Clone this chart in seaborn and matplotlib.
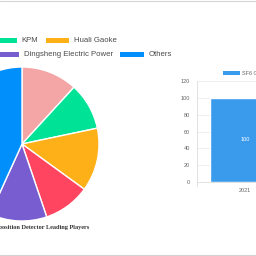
import matplotlib
matplotlib.use("Agg")
import matplotlib.pyplot as plt
import seaborn as sns
from matplotlib.patches import Rectangle
from matplotlib.lines import Line2D

# Pie data (leading players, share in %)
players = ["Henan Relations", "KPM", "Huali Gaoke", "Wuhan Huatian", "Dingsheng Electric Power", "Others"]
shares = [11.8, 9.9, 13.3, 9.8, 12.0, 43.2]
pie_colors = ["#f4a5a5", "#00e396", "#feb019", "#ff4560", "#775dd0", "#008ffb"]

# Bar data
years = ["2021"]
market_size = [100]
bar_label = "SF6 Gas Decomposition Detector Market Size"
bar_color = "#3a9bed"
y_ticks = [0, 20, 40, 60, 80, 100, 120]

title = "SF6 Gas Decomposition Detector Leading Players"

sns.set_theme(style="white")
plt.rcParams["font.family"] = ["Liberation Sans", "DejaVu Sans"]

W = 256.0
fig = plt.figure(figsize=(2.56, 2.56), dpi=100)
fig.patch.set_facecolor("white")


def fx(x):
    return x / W


def fy(y):
    return 1 - y / W


# ---- pie ----
cx, cy, r = 22, 144, 77
ax_pie = fig.add_axes([fx(cx - r), fy(cy + r), 2 * r / W, 2 * r / W])
ax_pie.pie(shares, colors=pie_colors, startangle=90, counterclock=False,
           wedgeprops=dict(edgecolor="white", linewidth=1.0))
ax_pie.set_xlim(-1, 1)
ax_pie.set_ylim(-1, 1)
ax_pie.axis("off")

# legend for the pie, two centered rows (first entries fall off the left edge)
rows = [[0, 1, 2], [3, 4, 5]]
row_y = [40.7, 54.7]
box_left = [[-140, -7, 45.5], [-140, -4.5, 120]]
for row, yy, lefts in zip(rows, row_y, box_left):
    for i, bx in zip(row, lefts):
        fig.add_artist(Rectangle((fx(bx), fy(yy + 2.6)), 23.5 / W, 5.2 / W,
                                 transform=fig.transFigure, color=pie_colors[i], lw=0))
        fig.text(fx(bx + 28.5), fy(yy), players[i], fontsize=5.6, color="#4a4a4a",
                 va="center", ha="left")

fig.text(fx(89.3), fy(227), title, fontsize=4.5, color="#333333", ha="right", va="center",
         family=["Liberation Serif", "DejaVu Serif"], fontweight="bold")

# ---- bar ----
ax_bar = fig.add_axes([fx(197), fy(182), 96 / W, 101 / W])
sns.barplot(x=years, y=market_size, color=bar_color, width=0.72, saturation=1, ax=ax_bar)
ax_bar.set_ylim(0, 120)
ax_bar.set_yticks(y_ticks)
ax_bar.yaxis.grid(True, color="#ededed", linewidth=0.6)
ax_bar.set_axisbelow(True)
for s in ["top", "right"]:
    ax_bar.spines[s].set_visible(False)
for s in ["left", "bottom"]:
    ax_bar.spines[s].set_color("#dddddd")
    ax_bar.spines[s].set_linewidth(0.6)
ax_bar.tick_params(axis="y", length=4, width=0.6, color="#e4e4e4", labelsize=4,
                   labelcolor="#666666", pad=1.2)
ax_bar.tick_params(axis="x", length=0, labelsize=4, labelcolor="#666666", pad=4)
ax_bar.add_line(Line2D([0, 0], [-0.04, 0], transform=ax_bar.transAxes, color="#dddddd",
                       lw=0.6, clip_on=False))
ax_bar.bar_label(ax_bar.containers[0], label_type="center", color="white", fontsize=4)
ax_bar.set_xlabel("")
ax_bar.set_ylabel("")

fig.add_artist(Rectangle((fx(223), fy(75.3)), 17 / W, 4 / W, transform=fig.transFigure,
                         color=bar_color, lw=0))
fig.text(fx(242), fy(73.3), bar_label, fontsize=4, color="#666666", va="center", ha="left")

# page border lines
for yy in [0.5, 254.5]:
    fig.add_artist(Line2D([0, 1], [fy(yy), fy(yy)], transform=fig.transFigure,
                          color="#d4d4d4", lw=0.8))

fig.savefig("out.png", dpi=100, facecolor="white")
